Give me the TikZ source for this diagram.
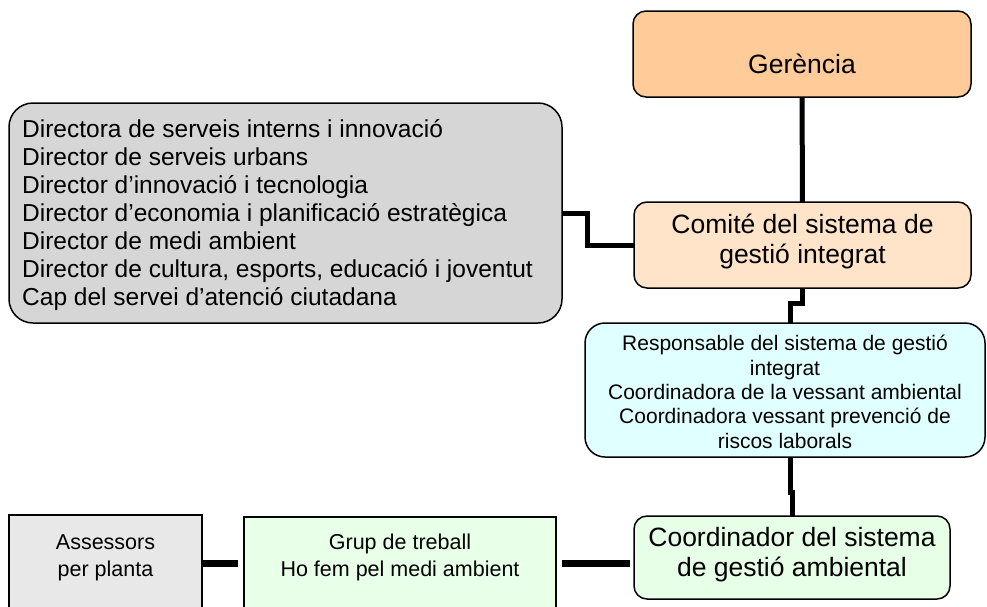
\documentclass[tikz,border=0pt]{standalone}
\usepackage{fontspec}
\setmainfont{Liberation Sans}
\definecolor{gerfill}{HTML}{FFCC99}
\definecolor{comfill}{HTML}{FFE4C9}
\definecolor{dirfill}{HTML}{D6D6D6}
\definecolor{respfill}{HTML}{E0FFFF}
\definecolor{coordfill}{HTML}{E6FFE6}
\definecolor{grupfill}{HTML}{E8FFE8}
\definecolor{assfill}{HTML}{E8E8E8}
\tikzset{
  box/.style={draw=black, line width=1.5pt, inner sep=0pt, outer sep=0pt},
  conn/.style={draw=black, line width=5pt},
  bconn/.style={draw=black, line width=6.5pt},
  txt/.style={anchor=base, align=center, inner sep=0pt},
}
\begin{document}
\begin{tikzpicture}[x=1pt,y=-1pt]
\useasboundingbox (0,0) rectangle (987,606);
\clip (0,0) rectangle (987,606);
% boxes
\node[box, rounded corners=13pt, fill=gerfill, minimum width=338pt, minimum height=86pt] (ger) at (802,54) {};
\node[box, rounded corners=13pt, fill=comfill, minimum width=337pt, minimum height=86pt] (com) at (802.5,245) {};
\node[box, rounded corners=24pt, fill=dirfill, minimum width=553pt, minimum height=220pt] (dir) at (285.5,213) {};
\node[box, rounded corners=20pt, fill=respfill, minimum width=400pt, minimum height=134pt] (resp) at (785,390) {};
\node[box, rounded corners=13pt, fill=coordfill, minimum width=316pt, minimum height=83pt] (coord) at (792,557.5) {};
\node[box, fill=grupfill, minimum width=312pt, minimum height=133pt] (grup) at (400,583.5) {};
\node[box, fill=assfill, minimum width=193pt, minimum height=135pt] (ass) at (105.5,582.5) {};
% texts (base anchor = baseline of the last line)
\node[txt, font=\fontsize{26.5}{30}\selectfont] (gert) at (802,73) {Gerència};
\node[txt, font=\fontsize{26.5}{30}\selectfont] (comt) at (802.5,263) {Comité del sistema de\\gestió integrat};
\node[txt, anchor=base west, align=left, font=\fontsize{24.5}{28}\selectfont] (dirt) at (22,305) {Directora de serveis interns i innovació\\Director de serveis urbans\\Director d’innovació i tecnologia\\Director d’economia i planificació estratègica\\Director de medi ambient\\Director de cultura, esports, educació i joventut\\Cap del servei d’atenció ciutadana};
\node[txt, font=\fontsize{21}{24.3}\selectfont] (respt) at (785,448) {Responsable del sistema de gestió\\integrat\\Coordinadora de la vessant ambiental\\Coordinadora vessant prevenció de\\riscos laborals};
\node[txt, font=\fontsize{26.5}{30}\selectfont] (coordt) at (792,576) {Coordinador del sistema\\de gestió ambiental};
\node[txt, font=\fontsize{21.5}{27}\selectfont] (grupt) at (400,576) {Grup de treball\\Ho fem pel medi ambient};
\node[txt, font=\fontsize{21.5}{27}\selectfont] (asst) at (105.5,576) {Assessors\\per planta};
% connectors
\coordinate (ly) at (0,563.5);
\draw[conn] (ger) -- (com);
\draw[conn] (dir.east) -- ++(25,0) |- (com.west);
\draw[conn] (com.south) -- ++(0,15) -| ([xshift=5pt]resp.north);
\draw[conn] ([xshift=5pt]resp.south) -- ++(0,35) -| (coord.north);
\draw[bconn, shorten <=6pt, shorten >=4pt] (grup.east |- ly) -- (coord.west |- ly);
\draw[bconn, shorten >=6pt] (ass.east |- ly) -- (grup.west |- ly);
\end{tikzpicture}
\end{document}
